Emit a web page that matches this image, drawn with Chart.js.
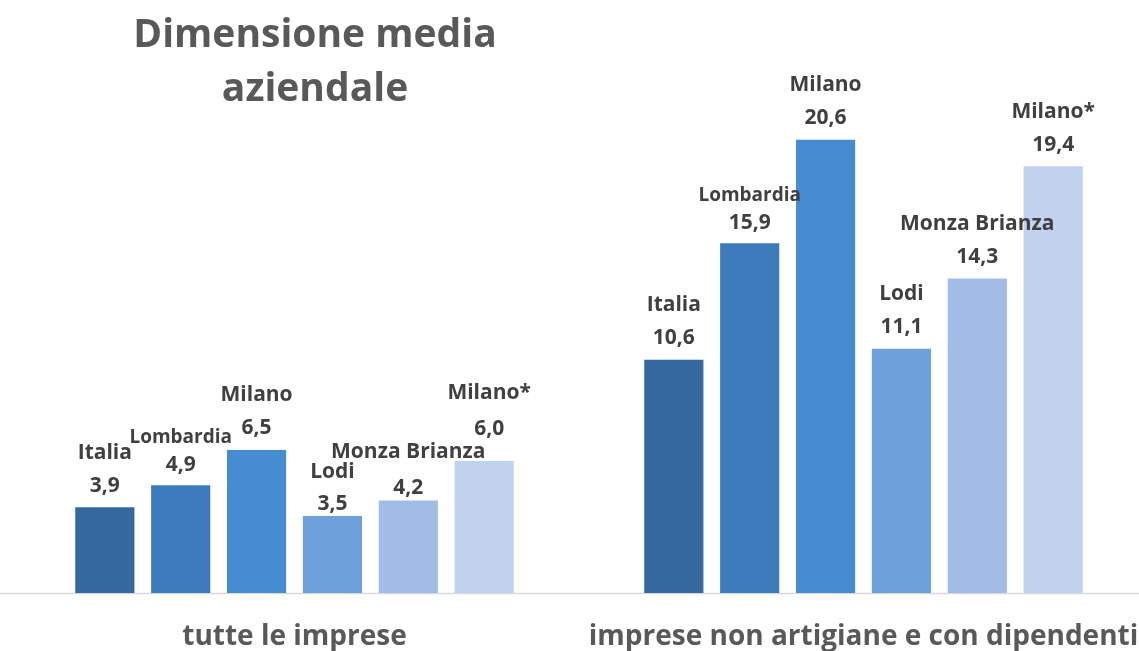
<!DOCTYPE html>
<html>
<head>
<meta charset="utf-8">
<script src="https://cdn.jsdelivr.net/npm/chart.js@4.4.1/dist/chart.umd.min.js"></script>
<style>
  html, body { margin: 0; padding: 0; background: #ffffff; overflow: hidden; }
  #wrap { position: relative; width: 1150px; height: 651px; }
  canvas { display: block; }
</style>
</head>
<body>
<div id="wrap"><canvas id="c" width="1150" height="651"></canvas></div>
<script>
const categories = ["tutte le imprese", "imprese non artigiane e con dipendenti"];
const seriesNames = ["Italia", "Lombardia", "Milano", "Lodi", "Monza Brianza", "Milano*"];
const italia = [3.9, 10.6];
const lombardia = [4.9, 15.9];
const milano = [6.5, 20.6];
const lodi = [3.5, 11.1];
const monzaBrianza = [4.2, 14.3];
const milanoStar = [6.0, 19.4];
const titleLines = ["Dimensione media", "aziendale"];

const seriesValues = [italia, lombardia, milano, lodi, monzaBrianza, milanoStar];
const seriesColors = ["#35689F", "#3E7BBD", "#478BD0", "#6EA0DC", "#A1BCE5", "#C0D2EE"];

// label nudges (dx, dy for value, extra gap for name) keyed "dataset-index"
const labelNudge = {
  "3-0": { dy: 10, gap: 32 },
  "4-0": { dy: 9, gap: 36 },
  "5-0": { dy: -10, gap: 36, dx: 5 }
};

const FONT = "'Open Sans', 'Noto Sans', sans-serif";

const titlePlugin = {
  id: 'titleText',
  afterDraw(chart) {
    const ctx = chart.ctx;
    ctx.save();
    ctx.font = "bold 39px " + FONT;
    ctx.fillStyle = "#595959";
    ctx.textAlign = "center";
    ctx.textBaseline = "alphabetic";
    ctx.fillText(titleLines[0], 315, 47);
    ctx.fillText(titleLines[1], 315, 101);
    ctx.restore();
  }
};

const axisLinePlugin = {
  id: 'axisLine',
  beforeDatasetsDraw(chart) {
    const ctx = chart.ctx;
    const y = Math.round(chart.chartArea.bottom) + 0.5;
    ctx.save();
    ctx.strokeStyle = "#D9D9D9";
    ctx.lineWidth = 1.5;
    ctx.beginPath();
    ctx.moveTo(0, y);
    ctx.lineTo(chart.width, y);
    ctx.stroke();
    ctx.restore();
  }
};

const barLabelPlugin = {
  id: 'barLabels',
  afterDatasetsDraw(chart) {
    const ctx = chart.ctx;
    ctx.save();
    ctx.fillStyle = "#404040";
    ctx.textAlign = "center";
    ctx.textBaseline = "middle";
    chart.data.datasets.forEach((ds, i) => {
      const meta = chart.getDatasetMeta(i);
      meta.data.forEach((bar, j) => {
        const small = (i === 1);
        const n = labelNudge[i + "-" + j] || {};
        const dx = n.dx || 0;
        const valY = bar.y - (small ? 20 : 21.5) + (n.dy || 0);
        const gap = n.gap || (small ? 28 : 33);
        ctx.font = "bold " + (small ? 19 : 21) + "px " + FONT;
        ctx.fillText(ds.label, bar.x + dx, valY - gap);
        ctx.font = "bold 21px " + FONT;
        ctx.fillText(ds.data[j].toFixed(1).replace('.', ','), bar.x + dx, valY);
      });
    });
    ctx.restore();
  }
};

new Chart(document.getElementById('c'), {
  type: 'bar',
  data: {
    labels: categories,
    datasets: seriesNames.map((name, i) => ({
      label: name,
      data: seriesValues[i],
      backgroundColor: seriesColors[i],
      borderWidth: 0,
      categoryPercentage: 0.8,
      barPercentage: 0.78
    }))
  },
  options: {
    responsive: false,
    maintainAspectRatio: false,
    devicePixelRatio: 1,
    animation: false,
    layout: { padding: { left: 10, right: 2, top: 43, bottom: 0 } },
    plugins: {
      legend: { display: false },
      title: { display: false },
      tooltip: { enabled: false }
    },
    scales: {
      x: {
        grid: { display: false, drawTicks: false },
        border: { display: false },
        afterFit(scale) {
          scale.height = 58;
          scale.paddingLeft = 0;
          scale.paddingRight = 0;
        },
        ticks: {
          color: "#595959",
          font: { family: FONT, size: 28, weight: 'bold', lineHeight: 1.2 },
          padding: 27,
          maxRotation: 0,
          autoSkip: false
        }
      },
      y: {
        display: false,
        min: 0,
        max: 25
      }
    }
  },
  plugins: [axisLinePlugin, barLabelPlugin, titlePlugin]
});
</script>
</body>
</html>
